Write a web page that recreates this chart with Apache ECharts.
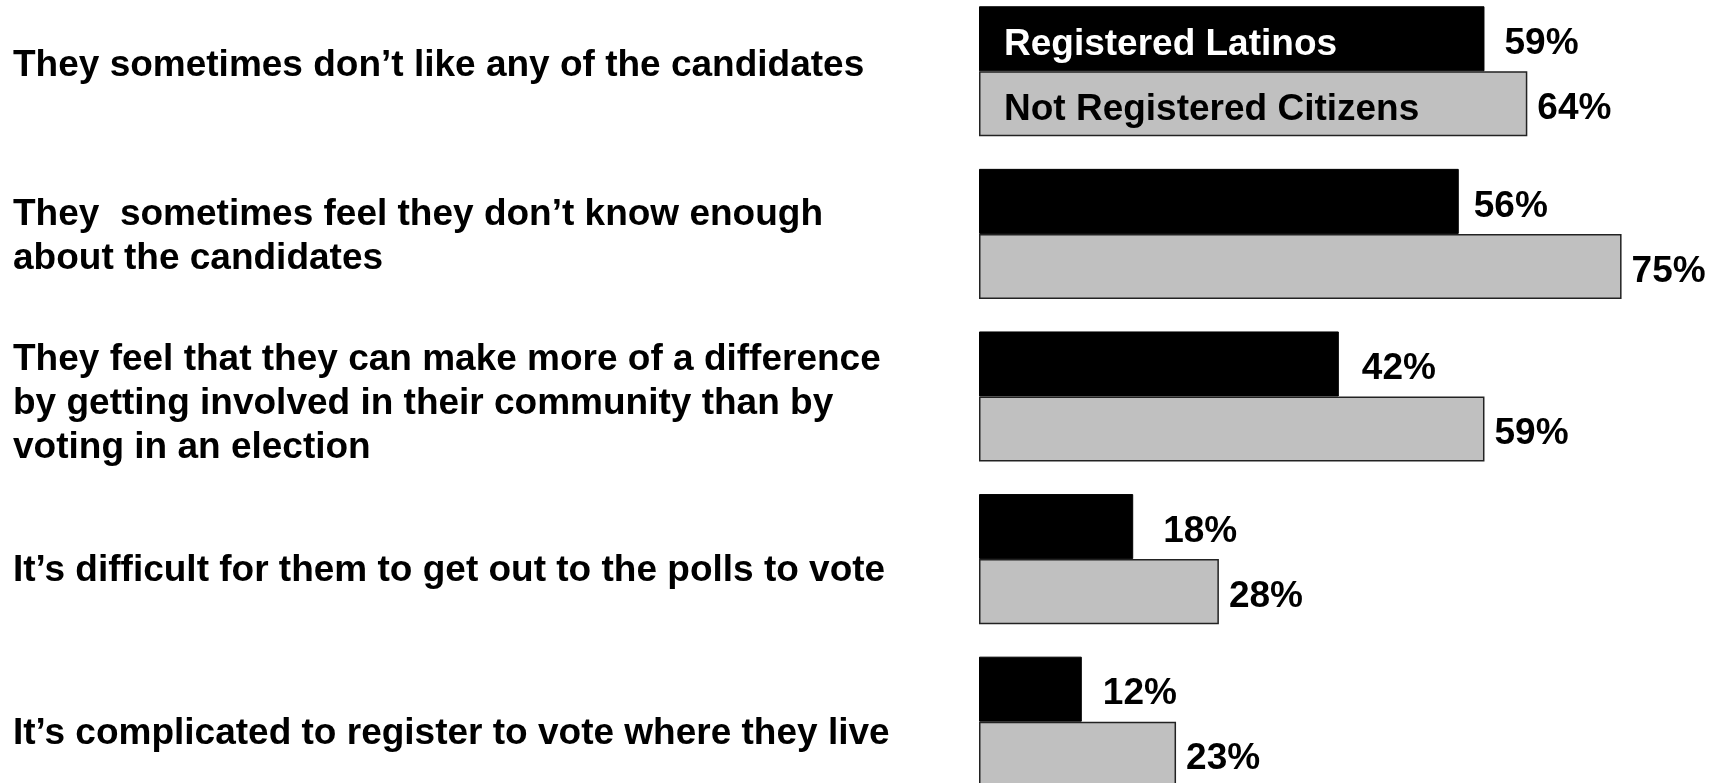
<!DOCTYPE html>
<html>
<head>
<meta charset="utf-8">
<script src="https://cdn.jsdelivr.net/npm/echarts@6/dist/echarts.min.js"></script>
<style>
html,body{margin:0;padding:0;background:#fff;}
#c{width:1719px;height:783px;}
</style>
</head>
<body>
<div id="c"></div>
<script>
const categories = [
  "They sometimes don\u2019t like any of the candidates",
  "They  sometimes feel they don\u2019t know enough\nabout the candidates",
  "They feel that they can make more of a difference\nby getting involved in their community than by\nvoting in an election",
  "It\u2019s difficult for them to get out to the polls to vote",
  "It\u2019s complicated to register to vote where they live"
];
const seriesNames = ["Registered Latinos", "Not Registered Citizens"];
const registered = [59, 56, 42, 18, 12];
const notRegistered = [64, 75, 59, 28, 23];

// layout tweaks (pixels), kept separate from the data
const labelShift = [-5.5, 3, 7, 12, 12];     // vertical nudge of category labels
const blackLabelGap = [20, 15, 23, 30, 21];  // gap between black bar end and its value

const FONT = '"Liberation Sans", Arial, Helvetica, sans-serif';
const chart = echarts.init(document.getElementById('c'), null, {renderer: 'canvas'});

const spacerRich = {};
labelShift.forEach((d, i) => {
  const h = Math.max(1, Math.abs(d) * 2);
  spacerRich['sp' + i] = {fontSize: 1, lineHeight: h, height: h};
});
const blackData = registered.map((v, i) => ({value: v, label: {distance: blackLabelGap[i]}}));

chart.setOption({
  backgroundColor: '#ffffff',
  animation: false,
  textStyle: {fontFamily: FONT},
  legend: {
    orient: 'vertical',
    left: 999,
    top: 25,
    padding: 0,
    itemWidth: 0,
    itemHeight: 0,
    itemGap: 25,
    icon: 'none',
    selectedMode: false,
    textStyle: {fontSize: 37, fontWeight: 'bold', fontFamily: FONT, lineHeight: 40},
    data: [
      {name: seriesNames[0], textStyle: {color: '#ffffff'}},
      {name: seriesNames[1], textStyle: {color: '#000000'}}
    ]
  },
  grid: {
    left: 979,
    right: 54.6,
    top: -10,
    bottom: -20,
    containLabel: false,
    outerBoundsMode: 'none'
  },
  xAxis: {
    type: 'value',
    min: 0,
    max: 80,
    show: false
  },
  yAxis: {
    type: 'category',
    inverse: true,
    data: categories,
    axisLine: {show: false},
    axisTick: {show: false},
    splitLine: {show: false},
    axisLabel: {
      align: 'left',
      margin: 966,
      color: '#000',
      fontSize: 37,
      fontWeight: 'bold',
      fontFamily: FONT,
      lineHeight: 44,
      formatter: function (value, index) {
        const d = labelShift[index];
        const sp = '{sp' + index + '| }';
        return d >= 0 ? sp + '\n' + value : value + '\n' + sp;
      },
      rich: spacerRich
    }
  },
  series: [
    {
      name: seriesNames[0],
      type: 'bar',
      data: blackData,
      barGap: '0%',
      barCategoryGap: '20%',
      itemStyle: {color: '#000000', borderColor: '#000000', borderWidth: 1},
      label: {
        show: true, position: 'right', distance: 20, offset: [0, 5],
        formatter: '{c}%', color: '#000', fontSize: 37, fontWeight: 'bold', fontFamily: FONT
      }
    },
    {
      name: seriesNames[1],
      type: 'bar',
      data: notRegistered,
      barGap: '0%',
      barCategoryGap: '20%',
      itemStyle: {color: '#C0C0C0', borderColor: '#222222', borderWidth: 1.5},
      label: {
        show: true, position: 'right', distance: 10, offset: [0, 5],
        formatter: '{c}%', color: '#000', fontSize: 37, fontWeight: 'bold', fontFamily: FONT
      }
    }
  ]
});
</script>
</body>
</html>
